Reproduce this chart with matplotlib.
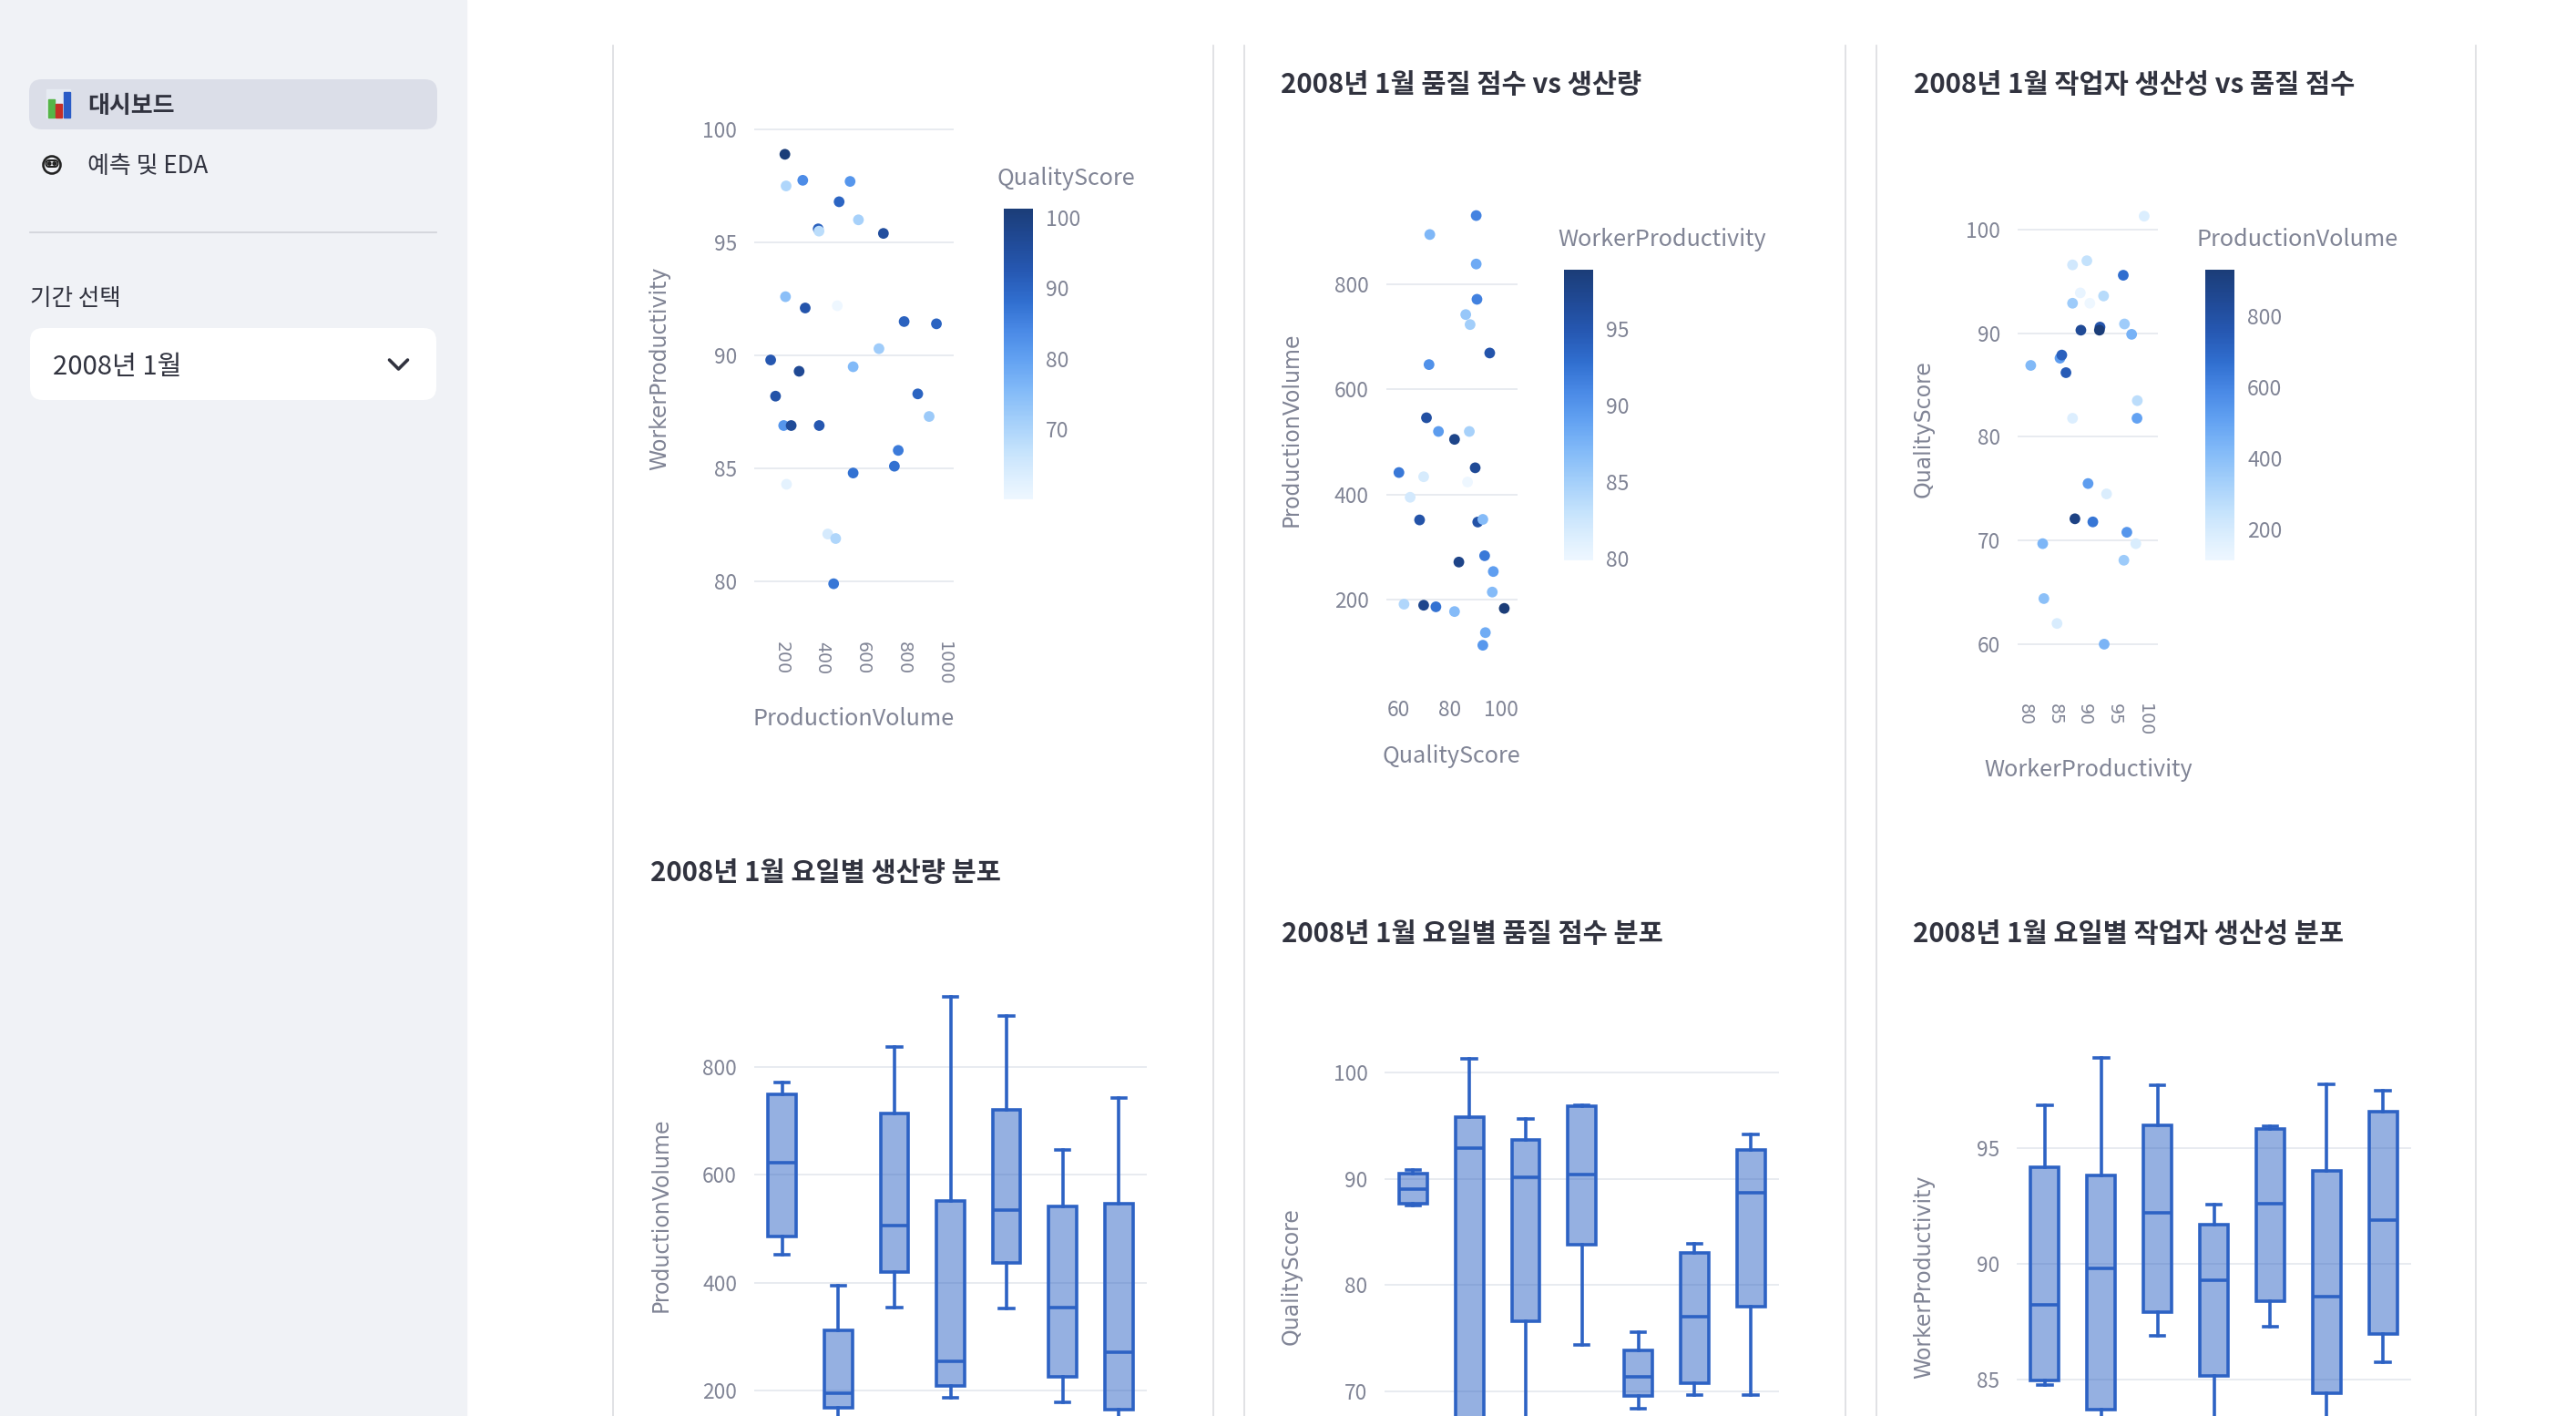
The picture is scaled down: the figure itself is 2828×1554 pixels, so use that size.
import numpy as np
import matplotlib
matplotlib.use('Agg')
import matplotlib.pyplot as plt
from matplotlib.colors import LinearSegmentedColormap, to_rgba
from matplotlib.patches import FancyBboxPatch, Rectangle, Circle
from matplotlib.transforms import ScaledTranslation

plt.rcParams['font.family'] = ['Noto Sans CJK KR', 'DejaVu Sans']

# daily values, 2008-01
production_volume = [184, 190, 272, 505, 451, 348, 352, 546, 669, 187, 284, 442, 771, 930, 647, 114,
                     254, 520, 138, 838, 894, 178, 215, 353, 742, 520, 723, 192, 395, 434, 424]
quality_score = [101.3, 69.7, 83.5, 81.8, 89.9, 90.9, 68.1, 70.8, 95.6, 74.5, 93.6, 60.0, 90.6, 90.3, 71.8, 92.9,
                 97.0, 75.5, 93.9, 90.3, 72.1, 81.8, 96.6, 92.9, 86.2, 87.6, 87.9, 62.0, 64.4, 69.7, 86.9]
worker_productivity = [98.9, 97.5, 97.75, 97.7, 96.8, 95.6, 95.5, 96.0, 95.4, 92.6, 92.1, 92.2, 91.5, 91.4, 90.3, 89.8,
                       89.3, 89.5, 88.2, 88.3, 87.3, 86.9, 86.9, 86.9, 85.8, 84.8, 85.1, 84.3, 82.1, 81.9, 79.9]

# box stats by weekday, 7 boxes (lower ends partly below the screenshot)
pv_hi = [771, 395, 838, 930, 894, 647, 742]
pv_q3 = [750, 311, 713, 551, 721, 542, 546]
pv_med = [623, 194, 505, 254, 534, 353, 270]
pv_q1 = [485, 167, 420, 208, 436, 225, 164]
pv_lo = [451, 114, 353, 187, 352, 178, 138]

qs_hi = [90.8, 101.3, 95.65, 96.9, 75.6, 83.9, 94.2]
qs_q3 = [90.45, 95.76, 93.66, 96.8, 73.9, 83.0, 92.7]
qs_med = [89.05, 92.9, 90.16, 90.4, 71.4, 77.0, 88.7]
qs_q1 = [87.7, 66.0, 76.6, 83.8, 69.6, 70.8, 78.0]
qs_lo = [87.5, 60.0, 62.0, 74.4, 68.4, 69.7, 69.7]

wp_hi = [96.86, 98.9, 97.7, 92.56, 95.93, 97.76, 97.47]
wp_q3 = [94.17, 93.83, 96.0, 91.7, 95.83, 94.0, 96.56]
wp_med = [88.25, 89.82, 92.2, 89.28, 92.6, 88.6, 91.9]
wp_q1 = [84.95, 83.7, 87.9, 85.17, 88.4, 84.4, 86.98]
wp_lo = [84.77, 79.9, 86.9, 81.9, 87.3, 82.1, 85.76]

W, H = 2828, 1554
TXT = '#31333f'
TXT2 = '#808495'
GRID = '#e6e9ef'
BOXC = '#2d62c4'
DY = 3  # small baseline nudge for text

cmap = LinearSegmentedColormap.from_list('st_blues', [
    (0.0, '#eef7ff'), (0.057, '#e2f1fe'), (0.162, '#c6e3fc'), (0.266, '#a5d0fa'),
    (0.371, '#84bbf8'), (0.475, '#64a3f2'), (0.579, '#4a8ae6'), (0.684, '#306ecf'),
    (0.788, '#2658b2'), (0.892, '#204a96'), (1.0, '#1b3d78')])


def pt(px):
    return px * 0.72


fig = plt.figure(figsize=(W / 100, H / 100), dpi=100)
fig.patch.set_facecolor('white')

# background layer in pixel coordinates
bg = fig.add_axes([0, 0, 1, 1])
bg.set_xlim(0, W)
bg.set_ylim(H, 0)
bg.axis('off')


def add_ax(l, r, t, b):
    return fig.add_axes([l / W, 1 - b / H, (r - l) / W, (b - t) / H])


# ---- sidebar
bg.add_patch(Rectangle((0, 0), 512, H, color='#f0f2f6', zorder=0))
bg.add_patch(FancyBboxPatch((32, 87), 448, 55, boxstyle='round,pad=0,rounding_size=14',
                            fc='#dbdee8', ec='none', zorder=1))
# chart icon
bg.add_patch(Rectangle((51, 98), 26, 31, color='#e6ebf2', zorder=2))
bg.add_patch(Rectangle((52.5, 108.5), 7, 20.5, color='#55b547', zorder=3))
bg.add_patch(Rectangle((61, 113.5), 6.5, 15.5, color='#c52f27', zorder=3))
bg.add_patch(Rectangle((70, 100.5), 7, 28.5, color='#2b5cc6', zorder=3))
bg.text(96, 113 + DY, '대시보드', fontsize=pt(26), weight='bold', color=TXT, va='center', zorder=3)
# robot icon
bg.add_patch(Circle((57, 181), 9.5, fill=False, lw=pt(2.6), ec='#222', zorder=3))
bg.add_patch(FancyBboxPatch((50.5, 176), 13, 7, boxstyle='round,pad=0,rounding_size=3.5',
                            fc='none', ec='#222', lw=pt(2), zorder=3))
bg.add_patch(Circle((54.2, 179.5), 1.7, color='#222', zorder=3))
bg.add_patch(Circle((59.8, 179.5), 1.7, color='#222', zorder=3))
bg.text(96, 180 + DY, '예측 및 EDA', fontsize=pt(26), color=TXT, va='center', zorder=3)
bg.plot([33, 479], [254.7, 254.7], color='#d3d5db', lw=pt(1.8), zorder=2)
bg.text(33, 325 + DY, '기간 선택', fontsize=pt(25.6), color=TXT, va='center', zorder=3)
bg.add_patch(FancyBboxPatch((33, 360), 446, 79, boxstyle='round,pad=0,rounding_size=14',
                            fc='white', ec='none', zorder=2))
bg.text(58, 400 + DY, '2008년 1월', fontsize=pt(29.2), color=TXT, va='center', zorder=3)
bg.plot([427.5, 437.5, 447.5], [395, 405, 395], color=TXT, lw=pt(3.6),
        solid_capstyle='round', solid_joinstyle='round', zorder=3)

# ---- column borders
for xb in [673, 1332, 1366, 2026, 2060, 2718]:
    bg.plot([xb, xb], [50, H], color='#dedfe3', lw=pt(1.8), zorder=1)


def style(ax, yticks):
    ax.set_facecolor('none')
    for s in ax.spines.values():
        s.set_visible(False)
    ax.set_yticks(yticks)
    ax.yaxis.grid(True, color=GRID, lw=pt(1.8))
    ax.xaxis.grid(False)
    ax.set_axisbelow(True)
    ax.tick_params(axis='y', length=0, pad=pt(19), labelsize=pt(22.7), labelcolor=TXT2)
    ax.tick_params(axis='x', length=0, labelsize=pt(22.7), labelcolor=TXT2)


def colorbar(sc, box, ticks, title, tx, ty):
    cax = add_ax(*box)
    cb = fig.colorbar(sc, cax=cax, ticks=ticks)
    cb.outline.set_visible(False)
    cax.tick_params(length=0, pad=pt(14), labelsize=pt(23), labelcolor=TXT2)
    bg.text(tx, ty + DY, title, fontsize=pt(25.2), color=TXT2, va='center', ha='left')


def rot_xticks(ax, ticks, pad):
    ax.set_xticks(ticks, labels=[str(t) for t in ticks], rotation=-90,
                  fontfamily='DejaVu Sans', fontsize=pt(19))
    ax.tick_params(axis='x', pad=pt(pad))
    shift = ScaledTranslation(-7 / 100, 0, fig.dpi_scale_trans)
    for lab in ax.get_xticklabels():
        lab.set_transform(lab.get_transform() + shift)


def ylabel(x, y, s):
    bg.text(x, y, s, rotation=90, fontfamily='DejaVu Sans', fontsize=pt(23.6),
            color=TXT2, ha='center', va='center')


def xlabel(x, y, s):
    bg.text(x, y + DY, s, fontsize=pt(25.2), color=TXT2, ha='center', va='center')


def title(x, y, s):
    bg.text(x, y + DY, s, fontsize=pt(29.5), weight='bold', color=TXT, ha='left', va='center')


MS = 72

# ---- scatter 1: ProductionVolume vs WorkerProductivity
ax1 = add_ax(828, 1047, 134.6, 658)
sc1 = ax1.scatter(production_volume, worker_productivity, c=quality_score, cmap=cmap, s=MS, linewidths=0)
ax1.set_xlim(33, 1015)
ax1.set_ylim(79.2, 100.3)
style(ax1, [80, 85, 90, 95, 100])
rot_xticks(ax1, [200, 400, 600, 800, 1000], 46)
colorbar(sc1, (1102, 1134, 229, 548.3), [70, 80, 90, 100], 'QualityScore', 1095, 192.7)
ylabel(724, 404, 'WorkerProductivity')
xlabel(937.5, 786, 'ProductionVolume')

# ---- scatter 2: QualityScore vs ProductionVolume
ax2 = add_ax(1521.5, 1665.7, 222.7, 722)
sc2 = ax2.scatter(quality_score, production_volume, c=worker_productivity, cmap=cmap, s=MS, linewidths=0)
ax2.set_xlim(54.9, 106.4)
ax2.set_ylim(90, 954)
style(ax2, [200, 400, 600, 800])
ax2.set_xticks([60, 80, 100])
ax2.tick_params(axis='x', pad=pt(46))
colorbar(sc2, (1716.6, 1748.7, 296, 615), [80, 85, 90, 95], 'WorkerProductivity', 1710, 259.5)
title(1406.5, 90, '2008년 1월 품질 점수 vs 생산량')
ylabel(1418, 471, 'ProductionVolume')
xlabel(1593, 827, 'QualityScore')

# ---- scatter 3: WorkerProductivity vs QualityScore
ax3 = add_ax(2215, 2369, 223.6, 720.6)
sc3 = ax3.scatter(worker_productivity, quality_score, c=production_volume, cmap=cmap, s=MS, linewidths=0)
ax3.set_xlim(77.7, 101.2)
ax3.set_ylim(58.8, 102.5)
style(ax3, [60, 70, 80, 90, 100])
rot_xticks(ax3, [80, 85, 90, 95, 100], 51)
colorbar(sc3, (2421, 2453, 296, 615), [200, 400, 600, 800], 'ProductionVolume', 2412, 259.5)
title(2101, 90, '2008년 1월 작업자 생산성 vs 품질 점수')
ylabel(2111.6, 471, 'QualityScore')
xlabel(2292.5, 841.6, 'WorkerProductivity')


# ---- box plots by weekday (category labels fall below the visible area)
def box_panel(box, lo, q1, med, q3, hi, ylim, yticks):
    ax = add_ax(*box)
    stats = [dict(whislo=a, q1=b, med=c, q3=d, whishi=e) for a, b, c, d, e in zip(lo, q1, med, q3, hi)]
    lw = pt(3.6)
    ax.bxp(stats, positions=range(len(stats)), widths=0.5, capwidths=0.25, showfliers=False,
           patch_artist=True,
           boxprops=dict(facecolor=to_rgba(BOXC, 0.5), edgecolor=BOXC, lw=lw),
           whiskerprops=dict(color=BOXC, lw=lw),
           capprops=dict(color=BOXC, lw=lw),
           medianprops=dict(color=BOXC, lw=lw))
    ax.set_xlim(-0.5, len(stats) - 0.5)
    ax.set_ylim(*ylim)
    style(ax, yticks)
    ax.tick_params(axis='x', labelbottom=False)
    return ax


box_panel((828, 1259, 1075, 1650), pv_lo, pv_q1, pv_med, pv_q3, pv_hi, (-10, 962.4), [200, 400, 600, 800])
title(714, 955, '2008년 1월 요일별 생산량 분포')
ylabel(726, 1333.6, 'ProductionVolume')

box_panel((1520.5, 1953, 1145, 1650), qs_lo, qs_q1, qs_med, qs_q3, qs_hi, (59.47, 102.74), [70, 80, 90, 100])
title(1406.7, 1022, '2008년 1월 요일별 품질 점수 분포')
ylabel(1417.4, 1401, 'QualityScore')

box_panel((2214, 2647, 1148, 1650), wp_lo, wp_q1, wp_med, wp_q3, wp_hi, (79.65, 99.41), [85, 90, 95])
title(2100, 1022, '2008년 1월 요일별 작업자 생산성 분포')
ylabel(2112.4, 1401, 'WorkerProductivity')

fig.savefig('out.png', dpi=100)
